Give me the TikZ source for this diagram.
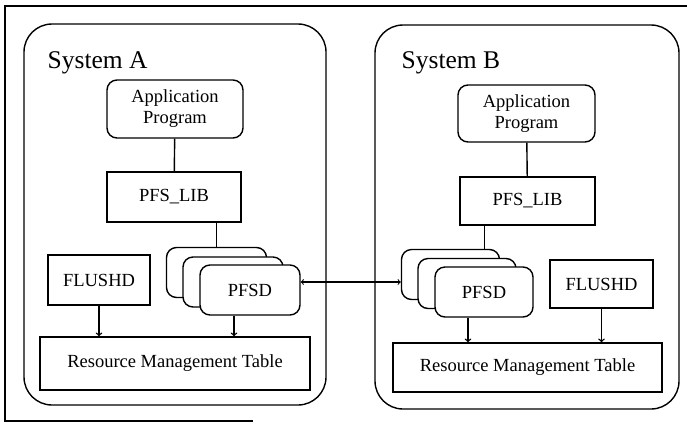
\documentclass[tikz,border=0pt]{standalone}
\usepackage{fontspec}
\setmainfont{Liberation Serif}
\usepackage{tikz}
\usetikzlibrary{arrows}

\begin{document}
\begin{tikzpicture}[x=1pt,y=-1pt,line width=1.4pt,>=to,
	sysbox/.style={draw, rounded corners=28pt, inner sep=0},
	appbox/.style={draw, rounded corners=10pt, fill=white, align=center, inner sep=0, font=\fontsize{18.5pt}{21pt}\selectfont},
	plainbox/.style={draw, fill=white, inner sep=0, font=\fontsize{18.5pt}{21pt}\selectfont},
	pfsdbox/.style={draw, rounded corners=10pt, fill=white, inner sep=0, minimum width=100, minimum height=50, font=\fontsize{18.5pt}{21pt}\selectfont},
	systitle/.style={inner sep=0, anchor=west, font=\fontsize{25.5pt}{25pt}\selectfont}]
					\useasboundingbox (0,0) rectangle (687,424);
					\fill[white] (0,0) rectangle (687,424);
					\draw (253,421) -- (5,421) -- (5,6) -- (687,6); % outer frame, open on the right
					% System A
					\node[sysbox, minimum width=302, minimum height=381] (sysA) at (175,214.5) {};
					\node[systitle] (titleA) at (47,63) {System A};
					\node[appbox, minimum width=136, minimum height=58] (appA) at (175,109) {Application\\Program};
					\node[plainbox, minimum width=134, minimum height=50] (libA) at (174,197) {PFS\_LIB};
					\node[pfsdbox] (pfsdAb) at (216.5,272.5) {};
					\node[pfsdbox] (pfsdAc) at (233,282) {};
					\node[pfsdbox] (pfsdA) at (250,290) {PFSD};
					\node[plainbox, minimum width=102, minimum height=50] (flushA) at (99,280) {FLUSHD};
					\node[plainbox, minimum width=270, minimum height=53] (rmtA) at (175,363.5) {Resource Management Table};
					\draw (appA) -- (libA);
					\draw (pfsdAb.north) -- (pfsdAb.north |- libA.south);
					\draw[->] (flushA) -- (rmtA.north -| flushA);
					\draw[->] ([xshift=-16pt]pfsdA.south) -- ([xshift=-16pt]pfsdA.south |- rmtA.north);
					% System B
					\node[sysbox, minimum width=304, minimum height=384] (sysB) at (527,217) {};
					\node[systitle] (titleB) at (401,63) {System B};
					\node[appbox, minimum width=137, minimum height=57] (appB) at (526.5,113.5) {Application\\Program};
					\node[plainbox, minimum width=135, minimum height=48] (libB) at (527.5,201) {PFS\_LIB};
					\node[pfsdbox, minimum width=98] (pfsdBb) at (450.5,274.5) {};
					\node[pfsdbox, minimum width=98] (pfsdBc) at (467,283.5) {};
					\node[pfsdbox, minimum width=98] (pfsdB) at (484,292) {PFSD};
					\node[plainbox, minimum width=103, minimum height=48] (flushB) at (601.5,284) {FLUSHD};
					\node[plainbox, minimum width=269, minimum height=49] (rmtB) at (527.5,367.5) {Resource Management Table};
					\draw (appB) -- (libB);
					\draw ([xshift=-16pt]pfsdBb.north east) -- ([xshift=-16pt]pfsdBb.north east |- libB.south);
					\draw[->] (flushB) -- (rmtB.north -| flushB);
					\draw[->] ([xshift=-16pt]pfsdB.south) -- ([xshift=-16pt]pfsdB.south |- rmtB.north);
					% link between the daemons
					\draw[<->, line width=1.1pt] ([yshift=8pt]pfsdA.east) -- ([yshift=8pt]pfsdA.east -| pfsdBb.west);
				\end{tikzpicture}
\end{document}
